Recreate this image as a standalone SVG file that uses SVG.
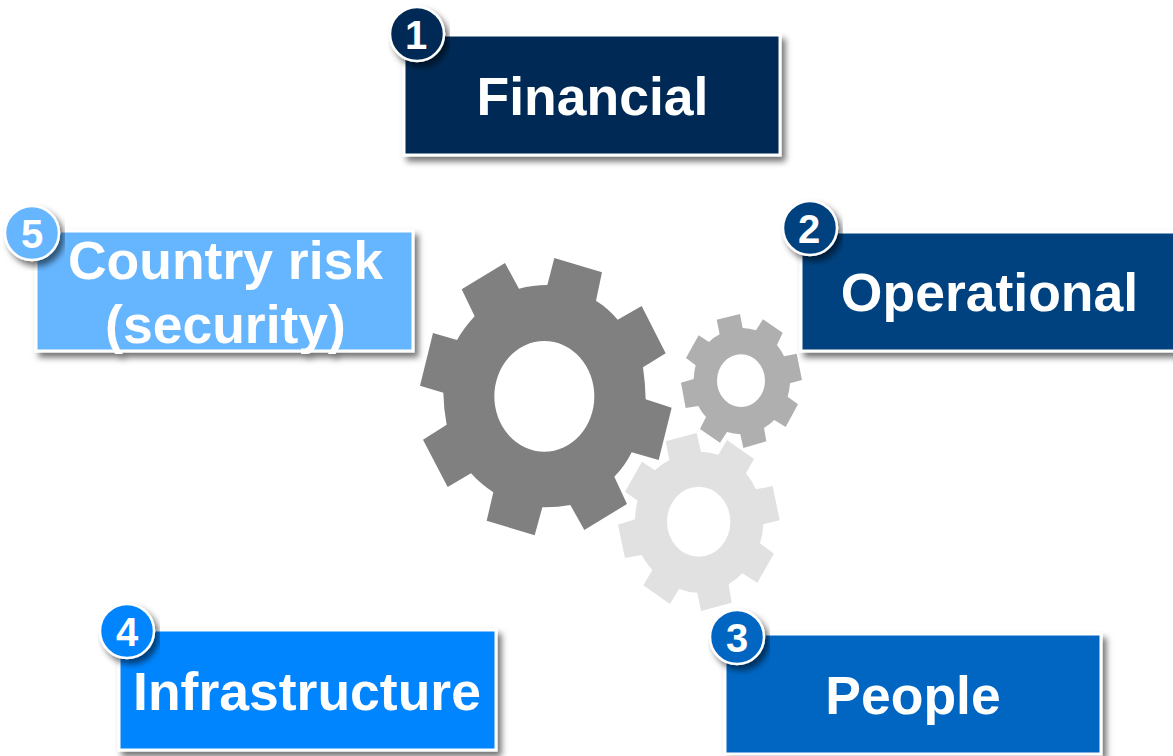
<svg xmlns="http://www.w3.org/2000/svg" width="1173" height="756" viewBox="0 0 1173 756">
<style>
.box{stroke:#fff;stroke-width:3}
.lbl{font-family:"Liberation Sans",Arial,sans-serif;font-weight:700;font-size:53.500px;fill:#fff;text-anchor:middle}
.num{font-family:"Liberation Sans",Arial,sans-serif;font-weight:700;font-size:40px;fill:#fff;text-anchor:middle}
.badge{stroke:#fff;stroke-width:2.500}
</style>
<defs>
<filter id="sh" x="-10%" y="-20%" width="120%" height="140%">
<feGaussianBlur in="SourceAlpha" stdDeviation="3" result="b"/>
<feOffset in="b" dx="4" dy="5" result="o"/>
<feFlood flood-color="#000" flood-opacity=".55"/>
<feComposite in2="o" operator="in" result="s"/>
<feMerge><feMergeNode in="s"/><feMergeNode in="SourceGraphic"/></feMerge>
</filter>
</defs>
<rect width="1173" height="756" fill="#fff"/>
<g id="gears" transform="translate(410 250) scale(.33333)">
<path id="gear-large" fill="#808080" fill-rule="evenodd" d="M433 24L576 67L558 152Q595 175 623 209L695 168L767 310L699 352Q706 400 707 448L785 473L746 630L665 607Q645 648 613 680L651 762L523 840L481 765Q440 773 397 772L374 856L230 812L250 727Q213 703 183 670L113 711L39 569L110 524Q101 477 100 428L30 407L69 249L141 270Q163 232 194 199L155 118L285 39L327 116Q368 105 412 105ZM403 273A150 166 0 1 0 403 605A150 166 0 1 0 403 273Z"/>
<path id="gear-small" fill="#afafaf" fill-rule="evenodd" d="M920 209L990 192L998 234Q1019 235 1038 241L1059 208L1118 248L1101 285Q1114 301 1122 319L1160 311L1176 390L1140 400Q1139 420 1133 440L1164 463L1127 531L1093 510Q1079 524 1062 534L1069 574L1000 594L991 553Q971 552 951 546L930 578L870 537L888 501Q874 486 865 468L827 474L813 398L851 387Q852 366 857 346L828 324L866 256L897 276Q911 262 929 253ZM993 313A72 79 0 1 0 993 471A72 79 0 1 0 993 313Z"/>
<path id="gear-light" fill="#e1e1e1" fill-rule="evenodd" d="M767 574L860 549L873 605Q900 606 925 614L951 570L1032 627L1008 670Q1026 692 1038 718L1088 708L1109 811L1060 823Q1059 852 1050 880L1092 911L1042 998L997 970Q979 989 956 1003L965 1058L873 1083L862 1028Q834 1027 807 1017L780 1062L700 1006L727 960Q708 939 695 915L645 924L624 824L675 808Q676 779 683 752L645 725L696 635L735 661Q755 642 778 630ZM866 710A95 105 0 1 0 866 920A95 105 0 1 0 866 710Z"/>
</g>
<g id="node-1">
<g filter="url(#sh)"><rect class="box" x="404" y="35" width="376" height="120" fill="#002b54"/><text class="lbl" x="592.500" y="115">Financial</text></g>
<circle class="badge" cx="417" cy="34" r="27" fill="#002b54" filter="url(#sh)"/><text class="num" x="416" y="49">1</text>
</g>
<g id="node-2">
<g filter="url(#sh)"><rect class="box" x="801" y="232" width="376" height="119" fill="#00427f"/><text class="lbl" x="989.500" y="311">Operational</text></g>
<circle class="badge" cx="810" cy="228" r="27" fill="#00427f" filter="url(#sh)"/><text class="num" x="809" y="243">2</text>
</g>
<g id="node-3">
<g filter="url(#sh)"><rect class="box" x="725" y="634" width="376" height="120" fill="#0066c2"/><text class="lbl" x="913" y="714">People</text></g>
<circle class="badge" cx="737" cy="637" r="27" fill="#0066c2" filter="url(#sh)"/><text class="num" x="737" y="652">3</text>
</g>
<g id="node-4">
<g filter="url(#sh)"><rect class="box" x="119" y="630" width="377" height="120" fill="#0085ff"/><text class="lbl" x="307" y="710">Infrastructure</text></g>
<circle class="badge" cx="127" cy="631" r="27" fill="#0085ff" filter="url(#sh)"/><text class="num" x="127" y="646">4</text>
</g>
<g id="node-5">
<g filter="url(#sh)"><rect class="box" x="36" y="231" width="377" height="120" fill="#66b5ff"/><text class="lbl" x="225.500" y="279">Country risk</text><text class="lbl" x="225.500" y="343">(security)</text></g>
<circle class="badge" cx="32" cy="233" r="27" fill="#66b5ff" filter="url(#sh)"/><text class="num" x="32" y="248">5</text>
</g>
</svg>
